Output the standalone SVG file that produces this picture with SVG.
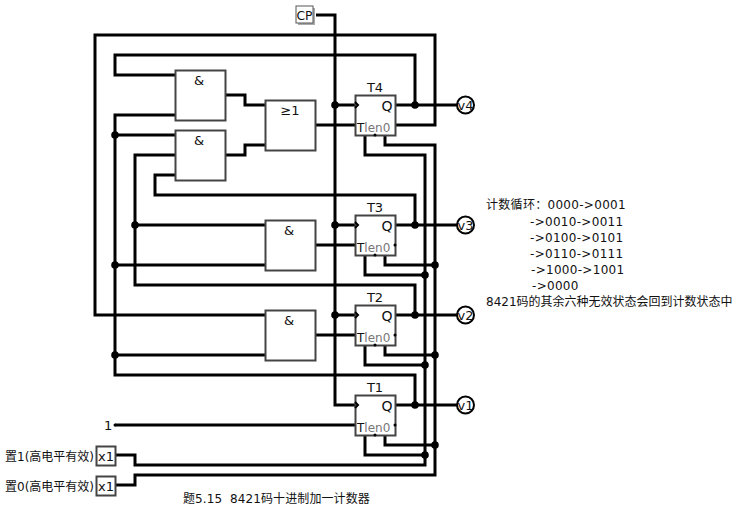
<svg xmlns="http://www.w3.org/2000/svg" width="742" height="516" viewBox="0 0 742 516">
<style>
text{font-family:"DejaVu Sans","Noto Sans CJK SC",sans-serif;fill:#111}
.w{fill:none;stroke:#000;stroke-width:3;stroke-linejoin:miter}
.c{fill:none;stroke:#000;stroke-width:2}
.d{fill:#000}
.b{fill:#fff;stroke:#444;stroke-width:2}
.g{font-size:13px;text-anchor:middle}
.q{font-size:14px;text-anchor:middle}
.t{font-size:12px}
.t tspan{fill:#777}
.lbl{font-size:12px;white-space:pre}
.v{fill:#fff;stroke:#000;stroke-width:2}
.m{font-size:13px;text-anchor:middle}
</style>
<g id="connectors">
<path class="w" d="M316 15H335V405H355"/>
<path class="w" d="M335 105H355M335 225H355M335 315H355"/>
<path class="w" d="M395 125H435V35H95V315H265"/>
<path class="w" d="M175 75H115V55H415V105"/>
<path class="w" d="M175 115H115V375H415V405"/>
<path class="w" d="M115 135H175M115 265H265M115 355H265"/>
<path class="w" d="M175 155H135V285H415V315"/>
<path class="w" d="M135 225H265"/>
<path class="w" d="M175 175H155V195H415V225"/>
<path class="w" d="M225 95H245V105H265M225 155H245V145H265"/>
<path class="w" d="M315 125H355M315 245H355M315 335H355M115 425H355"/>
<path class="w" d="M395 105H457M395 225H457M395 315H457M395 405H457"/>
<path class="w" d="M365 135V155H425V465H135V455H115"/>
<path class="w" d="M385 135V145H435V475H135V485H115"/>
<path class="w" d="M365 255V275H425M385 255V265H435M365 345V365H425M385 345V355H435M365 435V455H425M385 435V445H435"/>
<g class="d">
<circle cx="335" cy="105" r="3.800"/><circle cx="335" cy="225" r="3.800"/><circle cx="335" cy="315" r="3.800"/>
<circle cx="415" cy="105" r="3.800"/><circle cx="415" cy="225" r="3.800"/><circle cx="415" cy="315" r="3.800"/><circle cx="415" cy="405" r="3.800"/>
<circle cx="115" cy="135" r="3.800"/><circle cx="115" cy="265" r="3.800"/><circle cx="115" cy="355" r="3.800"/><circle cx="135" cy="225" r="3.800"/>
<circle cx="425" cy="275" r="3.800"/><circle cx="435" cy="265" r="3.800"/><circle cx="425" cy="365" r="3.800"/><circle cx="435" cy="355" r="3.800"/><circle cx="425" cy="455" r="3.800"/><circle cx="435" cy="445" r="3.800"/>
</g>
</g>
<g id="and1"><rect class="b" x="175.500" y="70.500" width="50" height="50"/><text class="g" x="199" y="85">&amp;</text></g>
<g id="and2"><rect class="b" x="175.500" y="130.500" width="50" height="50"/><text class="g" x="199" y="145">&amp;</text></g>
<g id="or1"><rect class="b" x="265.500" y="100.500" width="50" height="50"/><text class="g" x="290" y="115">≥1</text></g>
<g id="and3"><rect class="b" x="265.500" y="220.500" width="50" height="50"/><text class="g" x="289" y="235">&amp;</text></g>
<g id="and4"><rect class="b" x="265.500" y="310.500" width="50" height="50"/><text class="g" x="289" y="325">&amp;</text></g>
<g id="T4"><rect class="b" x="355.500" y="95.500" width="40" height="40"/><path class="c" d="M355 102L358 105L355 108"/><text class="g" x="375" y="92">T4</text><text class="q" x="387" y="111">Q</text><text class="t" x="357" y="132">T<tspan>len0</tspan></text><circle class="d" cx="375" cy="135" r="1.500"/></g>
<g id="T3"><rect class="b" x="355.500" y="215.500" width="40" height="40"/><path class="c" d="M355 222L358 225L355 228"/><text class="g" x="375" y="212">T3</text><text class="q" x="387" y="231">Q</text><text class="t" x="357" y="252">T<tspan>len0</tspan></text><circle class="d" cx="375" cy="255" r="1.500"/><circle class="d" cx="395" cy="245" r="1.500"/></g>
<g id="T2"><rect class="b" x="355.500" y="305.500" width="40" height="40"/><path class="c" d="M355 312L358 315L355 318"/><text class="g" x="375" y="302">T2</text><text class="q" x="387" y="321">Q</text><text class="t" x="357" y="342">T<tspan>len0</tspan></text><circle class="d" cx="375" cy="345" r="1.500"/><circle class="d" cx="395" cy="335" r="1.500"/></g>
<g id="T1"><rect class="b" x="355.500" y="395.500" width="40" height="40"/><path class="c" d="M355 402L358 405L355 408"/><text class="g" x="375" y="392">T1</text><text class="q" x="387" y="411">Q</text><text class="t" x="357" y="432">T<tspan>len0</tspan></text><circle class="d" cx="375" cy="435" r="1.500"/><circle class="d" cx="395" cy="425" r="1.500"/></g>
<g id="v4"><circle class="v" cx="465.500" cy="105" r="8.500"/><text class="m" x="465.500" y="110">v4</text></g>
<g id="v3"><circle class="v" cx="465.500" cy="225" r="8.500"/><text class="m" x="465.500" y="230">v3</text></g>
<g id="v2"><circle class="v" cx="465.500" cy="315" r="8.500"/><text class="m" x="465.500" y="320">v2</text></g>
<g id="v1"><circle class="v" cx="465.500" cy="405" r="8.500"/><text class="m" x="465.500" y="410">v1</text></g>
<g id="CP"><path d="M298 8H315V25H298Z" fill="#aaa"/><rect x="296" y="6" width="17" height="17" fill="#fff" stroke="#555"/><text x="296.500" y="20" font-size="13" textLength="16" lengthAdjust="spacingAndGlyphs">CP</text></g>
<g id="const1"><text x="104" y="430" font-size="13">1</text><circle class="d" cx="115" cy="425" r="1.500"/></g>
<g id="x1a"><rect x="96.500" y="446.500" width="19" height="19" fill="#fff" stroke="#444" stroke-width="2"/><text class="m" x="106" y="461">x1</text></g>
<g id="x1b"><rect x="96.500" y="476.500" width="19" height="19" fill="#fff" stroke="#444" stroke-width="2"/><text class="m" x="106" y="491">x1</text></g>
<text class="lbl" x="5" y="461">置1(高电平有效)</text>
<text class="lbl" x="5" y="491">置0(高电平有效)</text>
<text class="lbl" x="183" y="503" letter-spacing=".1">题5.15  8421码十进制加一计数器</text>
<text class="lbl" x="486" y="209" letter-spacing=".3">计数循环：0000-&gt;0001</text>
<text class="lbl" x="530" y="226" letter-spacing=".3">-&gt;0010-&gt;0011</text>
<text class="lbl" x="530" y="242" letter-spacing=".3">-&gt;0100-&gt;0101</text>
<text class="lbl" x="530" y="258" letter-spacing=".3">-&gt;0110-&gt;0111</text>
<text class="lbl" x="531" y="274" letter-spacing=".3">-&gt;1000-&gt;1001</text>
<text class="lbl" x="532" y="290" letter-spacing=".3">-&gt;0000</text>
<text class="lbl" x="486" y="306">8421码的其余六种无效状态会回到计数状态中</text>
</svg>
